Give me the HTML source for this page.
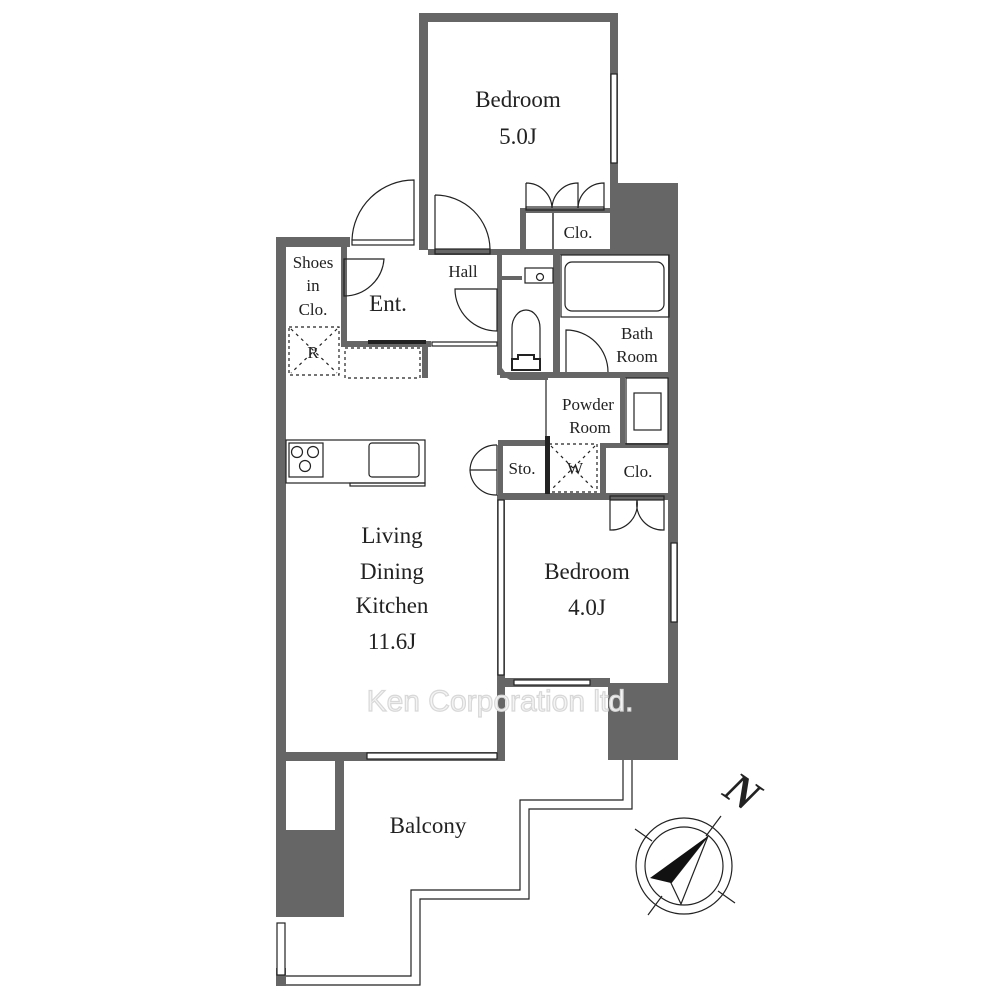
<!DOCTYPE html>
<html><head><style>
html,body{margin:0;padding:0;background:#fff;width:1000px;height:1000px;overflow:hidden}
svg{display:block}
text{font-family:"Liberation Serif",serif;fill:#222}
</style></head><body>
<svg width="1000" height="1000" viewBox="0 0 1000 1000" xmlns="http://www.w3.org/2000/svg">
<g fill="#666">
<rect x="419" y="13" width="9" height="237"/>
<rect x="419" y="13" width="199" height="9"/>
<rect x="610" y="13" width="8" height="172"/>
<rect x="610" y="183" width="68" height="70"/>
<rect x="520" y="208" width="92" height="5"/>
<rect x="520" y="208" width="6" height="42"/>
<rect x="552" y="213" width="2" height="37"/>
<rect x="276" y="237" width="10" height="680"/>
<rect x="276" y="237" width="74" height="10"/>
<rect x="341" y="244" width="6" height="103"/>
<rect x="341" y="341" width="90" height="6"/>
<rect x="422" y="345" width="6" height="33"/>
<rect x="428" y="249" width="240" height="6"/>
<rect x="497" y="250" width="5" height="125"/>
<polygon points="497,372 510,380 548,380 548,372 505,372 502,368"/>
<rect x="553" y="250" width="7" height="128"/>
<rect x="497" y="276" width="25" height="4"/>
<rect x="500" y="372" width="178" height="6"/>
<rect x="668" y="250" width="10" height="510"/>
<rect x="620" y="373" width="5" height="72"/>
<rect x="498" y="440" width="48" height="6"/>
<rect x="498" y="440" width="5" height="60"/>
<rect x="600" y="443" width="6" height="54"/>
<rect x="600" y="443" width="70" height="5"/>
<rect x="500" y="493" width="178" height="7"/>
<rect x="500" y="678" width="110" height="9"/>
<rect x="608" y="683" width="70" height="77"/>
<rect x="276" y="752" width="229" height="9"/>
<rect x="497" y="495" width="8" height="266"/>
<rect x="276" y="752" width="10" height="80"/>
<rect x="335" y="752" width="9" height="80"/>
<rect x="276" y="830" width="68" height="87"/>
<rect x="276" y="968" width="10" height="18"/>
</g>
<g fill="#fff" stroke="#222" stroke-width="1.2">
<rect x="611" y="74" width="6" height="89"/>
<rect x="671" y="543" width="6" height="79"/>
<rect x="514" y="680" width="76" height="5"/>
<rect x="367" y="753" width="130" height="6"/>
<rect x="498" y="500" width="6" height="175"/>
<rect x="277" y="923" width="8" height="52"/>
<rect x="432" y="342" width="65" height="4"/>
<rect x="561" y="255" width="108" height="62" fill="none"/>
<rect x="565" y="262" width="99" height="49" rx="7" fill="none"/>
<rect x="626" y="378" width="42" height="66" fill="none"/>
<rect x="634" y="393" width="27" height="37" fill="none"/>
<rect x="525" y="268" width="28" height="15" fill="none"/>
<circle cx="540" cy="277" r="3.5" fill="none"/>
<path d="M512,370 V328 a14,18 0 0 1 28,0 V370" fill="none"/>
<path d="M512,370 V359 h6 v-4 h16 v4 h6 v11 z" stroke-width="2" fill="none"/>
<rect x="286" y="440" width="139" height="43" fill="none"/>
<rect x="289" y="443" width="34" height="34" fill="none"/>
<circle cx="297" cy="452" r="5.5" fill="none"/><circle cx="313" cy="452" r="5.5" fill="none"/><circle cx="305" cy="466" r="5.5" fill="none"/>
<rect x="369" y="443" width="50" height="34" rx="3" fill="none"/>
<rect x="350" y="483" width="75" height="3" fill="none"/>
</g>
<g fill="none" stroke="#222" stroke-width="1.2">
<rect x="352" y="240" width="62" height="5"/>
<path d="M352,240 A62,62 0 0 1 414,180 V240"/>
<rect x="435" y="249" width="55" height="5"/>
<path d="M435,195 A55,55 0 0 1 490,249 M435,195 V249"/>
<path d="M526,183 A26,26 0 0 1 552,208 M526,183 V208 M552,208 A26,26 0 0 1 578,183 V208"/>
<path d="M578,208 A26,26 0 0 1 604,183 V208"/>
<rect x="526" y="207" width="78" height="3"/>
<path d="M344,259 H384 A40,40 0 0 1 344,296 Z"/>
<path d="M497,289 H455 A42,42 0 0 0 497,331 Z"/>
<path d="M566,372 V330 A42,42 0 0 1 608,372"/>
<path d="M497,445 V470 H470 A26,26 0 0 1 497,445 M497,470 V495 A26,26 0 0 1 470,470"/>
<path d="M610,500 V530 A26,26 0 0 0 637,500 M637,500 A26,26 0 0 0 664,530 V500"/>
<rect x="610" y="496" width="54" height="4"/>
<rect x="289" y="327" width="50" height="48" stroke-dasharray="3,3"/>
<path d="M291,329 L337,373 M337,329 L291,373" stroke-dasharray="3,4"/>
<rect x="345" y="348" width="75" height="30" stroke-dasharray="3,3"/>
<rect x="549" y="444" width="48" height="48" stroke-dasharray="3,3"/>
<path d="M551,446 L595,490 M595,446 L551,490" stroke-dasharray="3,4"/>
<path d="M546,380 V440"/>
<path d="M623,760 V800 H520 V890 H411 V976 H286"/>
<path d="M632,760 V809 H529 V899 H420 V985 H286"/>
<circle cx="684" cy="866" r="48"/>
<circle cx="684" cy="866" r="39"/>
<path d="M721,816 L706,836 M662,896 L648,915 M635,829 L652,841 M718,891 L735,903"/>
<path d="M708,836 L671,883 L681,904 Z"/>
</g>
<polygon points="708,836 650,878 671,883" fill="#111"/>
<rect x="545" y="436" width="5" height="58" fill="#222"/>
<rect x="368" y="340" width="58" height="4" fill="#222"/>
<text x="742" y="806" font-size="44" font-style="italic" font-weight="bold" text-anchor="middle" transform="rotate(35 742 792)">N</text>
<g font-size="23" text-anchor="middle">
<text x="518" y="107">Bedroom</text>
<text x="518" y="144">5.0J</text>
<text x="392" y="543">Living</text>
<text x="392" y="579">Dining</text>
<text x="392" y="613">Kitchen</text>
<text x="392" y="649">11.6J</text>
<text x="587" y="579">Bedroom</text>
<text x="587" y="615">4.0J</text>
<text x="428" y="833">Balcony</text>
<text x="388" y="311">Ent.</text>
</g>
<g font-size="17" text-anchor="middle">
<text x="578" y="238">Clo.</text>
<text x="463" y="277">Hall</text>
<text x="313" y="268">Shoes</text>
<text x="313" y="291">in</text>
<text x="313" y="315">Clo.</text>
<text x="637" y="339">Bath</text>
<text x="637" y="362">Room</text>
<text x="588" y="410">Powder</text>
<text x="590" y="433">Room</text>
<text x="522" y="474">Sto.</text>
<text x="638" y="477">Clo.</text>
<text x="313" y="358">R</text>
<text x="575" y="474">W</text>
</g>
<text x="500" y="711" font-size="30" text-anchor="middle" style="font-family:'Liberation Sans',sans-serif;fill:#f4f4f4;stroke:#d8d8d8;stroke-width:1.2">Ken Corporation ltd.</text>
</svg>
</body></html>
